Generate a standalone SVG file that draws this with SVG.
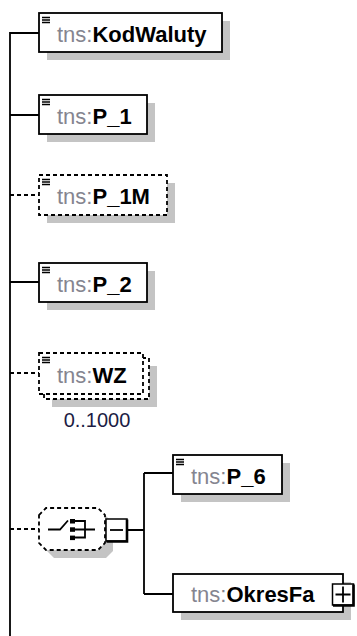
<svg xmlns="http://www.w3.org/2000/svg" width="357" height="636" viewBox="0 0 357 636">
<style>
.sh{fill:#c4c4c4}
.bx{fill:#fff;stroke:#000;stroke-width:1.8}
.dsh{stroke-dasharray:4 3}
.ln{fill:none;stroke:#000;stroke-width:1.8}
.t{font-family:"Liberation Sans",Arial,sans-serif;font-size:22px}
.p{fill:#858590}
.n{fill:#000;font-weight:bold}
.ic{stroke:#000;stroke-width:1.3;fill:none}
.btn{fill:#fff;stroke:#000;stroke-width:1.5}
.thk{fill:none;stroke:#000;stroke-width:2.6}
.occ{font-family:"Liberation Sans",Arial,sans-serif;font-size:20px;fill:#1c1c44}
</style>
<defs>
<path id="icon" class="ic" d="M3 4.5H11M3 7H11M3 9.5H11"/>
</defs>
<g id="connectors">
<path class="ln" d="M39 33H10V636M10 115H39M10 282H39"/>
<path class="ln dsh" d="M10 195H39M10 373H39M10 529H39"/>
<path class="ln" d="M127 530H144M144 473V594M144 473H173M144 594H173"/>
</g>
<g id="node-KodWaluty">
<rect class="sh" x="47" y="21" width="183" height="39"/>
<rect class="bx" x="39" y="13" width="183" height="39"/>
<use href="#icon" transform="translate(39,13)"/>
<text class="t" x="57" y="41.5"><tspan class="p">tns:</tspan><tspan class="n">KodWaluty</tspan></text>
</g>
<g id="node-P_1">
<rect class="sh" x="47" y="103" width="108" height="39"/>
<rect class="bx" x="39" y="95" width="108" height="39"/>
<use href="#icon" transform="translate(39,95)"/>
<text class="t" x="57" y="124"><tspan class="p">tns:</tspan><tspan class="n">P_1</tspan></text>
</g>
<g id="node-P_1M">
<rect class="sh" x="47" y="183" width="128" height="40"/>
<rect class="bx dsh" x="39" y="175" width="128" height="40"/>
<use href="#icon" transform="translate(39,175)"/>
<text class="t" x="57" y="204"><tspan class="p">tns:</tspan><tspan class="n">P_1M</tspan></text>
</g>
<g id="node-P_2">
<rect class="sh" x="47" y="271" width="108" height="39"/>
<rect class="bx" x="39" y="263" width="108" height="39"/>
<use href="#icon" transform="translate(39,263)"/>
<text class="t" x="57" y="291.5"><tspan class="p">tns:</tspan><tspan class="n">P_2</tspan></text>
</g>
<g id="node-WZ">
<rect class="sh" x="52" y="366" width="105" height="41"/>
<rect class="bx dsh" x="44" y="358" width="105" height="41"/>
<rect class="bx dsh" x="39" y="353" width="104" height="41"/>
<use href="#icon" transform="translate(39,353)"/>
<text class="t" x="57" y="382.5"><tspan class="p">tns:</tspan><tspan class="n">WZ</tspan></text>
<text class="occ" x="97" y="427" text-anchor="middle">0..1000</text>
</g>
<g id="node-choice">
<polygon class="sh" points="47,523 54,516 106,516 113,523 113,551 106,558 54,558 47,551"/>
<polygon class="bx dsh" points="39,515 46,508 98,508 105,515 105,543 98,550 46,550 39,543"/>
<path class="ln" stroke-width="1.5" d="M48 529.5H60L68 520.5M75 521H85V537.5H75M75 529.5H95"/>
<rect x="70" y="519" width="5" height="4.5" fill="#000"/>
<rect x="70" y="527.3" width="5" height="4.5" fill="#000"/>
<rect x="70" y="535.6" width="5" height="4.5" fill="#000"/>
<rect class="btn" x="106" y="519" width="21" height="22"/>
<path class="thk" d="M127 519.5V541.5H106.5"/>
<path class="ln" stroke-width="1.5" d="M110 530H123"/>
</g>
<g id="node-P_6">
<rect class="sh" x="181" y="463" width="109" height="39"/>
<rect class="bx" x="173" y="455" width="109" height="39"/>
<use href="#icon" transform="translate(173,455)"/>
<text class="t" x="191" y="483.5"><tspan class="p">tns:</tspan><tspan class="n">P_6</tspan></text>
</g>
<g id="node-OkresFa">
<rect class="sh" x="181" y="582" width="170" height="38"/>
<rect class="bx" x="173" y="574" width="170" height="38"/>
<text class="t" x="191" y="601.5"><tspan class="p">tns:</tspan><tspan class="n">OkresFa</tspan></text>
<rect class="btn" x="332.5" y="584" width="21" height="21"/>
<path class="thk" d="M353.5 584.5V605.5H333"/>
<path class="ln" stroke-width="1.5" d="M335.5 594.5H350.5M343 586.5V602.5"/>
</g>
</svg>
